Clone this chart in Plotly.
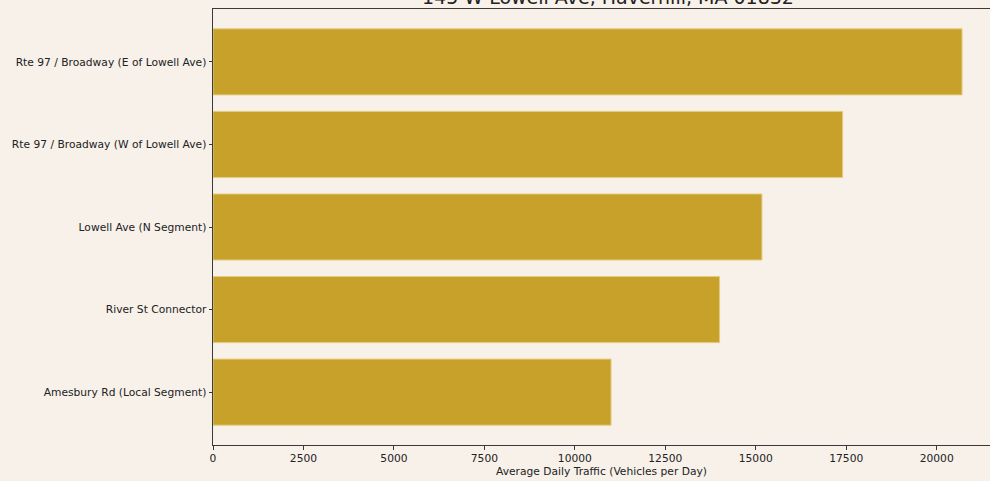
import plotly.graph_objects as go

categories = [
    "Rte 97 / Broadway (E of Lowell Ave)",
    "Rte 97 / Broadway (W of Lowell Ave)",
    "Lowell Ave (N Segment)",
    "River St Connector",
    "Amesbury Rd (Local Segment)",
]
traffic = [20700, 17400, 15170, 14000, 11000]
x_ticks = [0, 2500, 5000, 7500, 10000, 12500, 15000, 17500, 20000]
title_text = "145 W Lowell Ave, Haverhill, MA 01832"
x_title = "Average Daily Traffic (Vehicles per Day)"

BG = "#F7F1EA"
BAR = "#C8A12A"
AX = "#3a3a3a"
FONT = "DejaVu Sans"

fig = go.Figure(
    go.Bar(
        x=traffic,
        y=categories,
        orientation="h",
        width=0.8,
        marker=dict(color=BAR, line=dict(color="#E2CC80", width=1)),
        hoverinfo="skip",
    )
)

fig.update_layout(
    width=990,
    height=481,
    paper_bgcolor=BG,
    plot_bgcolor=BG,
    margin=dict(l=213, r=0, t=9, b=36),
    showlegend=False,
    font=dict(family=FONT, size=10.7, color="#222222"),
    annotations=[
        dict(
            text=title_text,
            x=0.5,
            y=1,
            xref="paper",
            yref="paper",
            xanchor="center",
            yanchor="bottom",
            xshift=6,
            yshift=-1,
            showarrow=False,
            font=dict(family=FONT, size=19, color="#222222"),
        )
    ],
)

fig.update_xaxes(
    range=[0, 21473],
    tickvals=x_ticks,
    ticktext=[str(v) for v in x_ticks],
    showgrid=False,
    zeroline=False,
    showline=True,
    linecolor=AX,
    linewidth=1,
    mirror=True,
    ticks="outside",
    ticklen=3.5,
    tickcolor=AX,
    tickfont=dict(size=10.7),
    title=dict(text=x_title, font=dict(size=10.7), standoff=1),
)

fig.update_yaxes(
    categoryorder="array",
    categoryarray=categories[::-1],
    range=[-0.64, 4.64],
    showgrid=False,
    zeroline=False,
    showline=True,
    linecolor=AX,
    linewidth=1,
    ticks="outside",
    ticklen=3.5,
    tickcolor=AX,
    tickfont=dict(size=10.7),
)

fig.write_html(
    "out.html",
    config={"displayModeBar": False},
    post_script="document.body.style.margin='0';document.body.style.background='" + BG + "';",
)
